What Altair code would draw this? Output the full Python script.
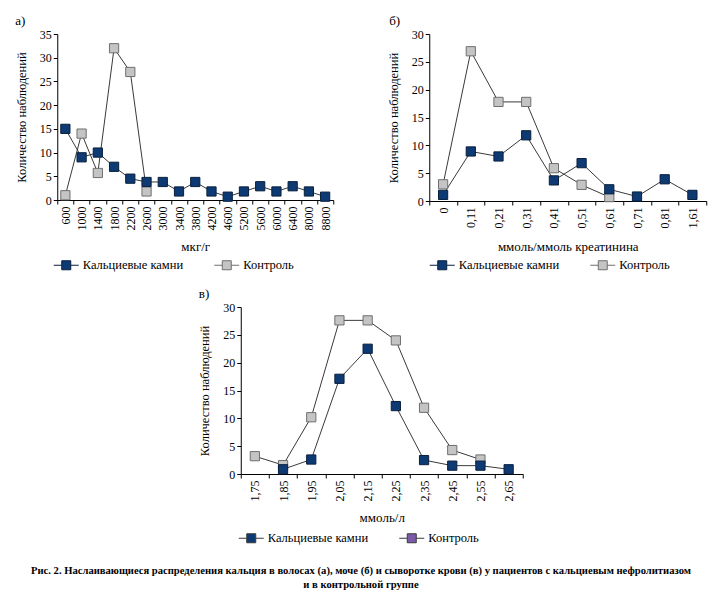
import altair as alt
import pandas as pd

# ---------------- data ----------------
SERIES = ["Кальциевые камни", "Контроль"]

# Panel а: hair, мкг/г
a_cats = ["600", "1000", "1400", "1800", "2200", "2600", "3000", "3400", "3800",
          "4200", "4600", "5200", "5600", "6000", "6400", "8000", "8800"]
a_stones = [15, 9, 10, 7, 4.5, 3.8, 3.8, 1.8, 3.8, 1.8, 0.7, 1.8, 2.9, 1.8, 2.9, 1.8, 0.7]
a_control = [1, 14, 5.7, 32, 27, 1.8]

# Panel б: urine, ммоль/ммоль креатинина
b_cats = ["0", "0,11", "0,21", "0,31", "0,41", "0,51", "0,61", "0,71", "0,81", "1,61"]
b_stones = [1.1, 8.9, 8.0, 11.8, 3.7, 6.8, 2.1, 0.8, 3.9, 1.1]
b_control = [3.0, 26.9, 17.8, 17.8, 5.9, 2.9, 0.7]

# Panel в: serum, ммоль/л
c_cats = ["1,75", "1,85", "1,95", "2,05", "2,15", "2,25", "2,35", "2,45", "2,55", "2,65"]
c_stones = [0.85, 2.6, 17.1, 22.5, 12.2, 2.5, 1.5, 1.5, 0.85]   # from 1,85
c_control = [3.2, 1.6, 10.2, 27.6, 27.6, 24.0, 11.9, 4.3, 2.6]  # from 1,75

CAPTION = [
    "Рис. 2. Наслаивающиеся распределения кальция в волосах (а), моче (б) и сыворотке крови (в) у пациентов с кальциевым нефролитиазом",
    "и в контрольной группе",
]

# ---------------- style ----------------
FONT = "Liberation Serif"
BLUE = "#0d3a73"
GRAY = "#c4c4c4"
PURPLE = "#7b5aa8"
LINE = "#3a3a3a"
# line + square symbol, fully inside its unit box (so legend layout has no overflow)
SYMBOL = "M-1,0H-0.36M0.36,0H1M-0.36,-0.36H0.36V0.36H-0.36Z"


def long_df(cats, stones, stones_start, control, control_start):
    rows = []
    for i, v in enumerate(control):
        k = control_start + i
        rows.append({"cat": cats[k], "idx": k, "val": v, "series": SERIES[1]})
    for i, v in enumerate(stones):
        k = stones_start + i
        rows.append({"cat": cats[k], "idx": k, "val": v, "series": SERIES[0]})
    return pd.DataFrame(rows)


def make_legend(lx, ly=218):
    return alt.Legend(
        title=None, orient="none", legendX=lx, legendY=ly, direction="horizontal",
        symbolType=SYMBOL, symbolSize=625, symbolStrokeColor=LINE, symbolStrokeWidth=1,
        symbolOpacity=1, labelFont=FONT, labelFontSize=12.5, labelColor="black",
        labelOffset=3.5, columnPadding=28.5, padding=0, labelLimit=400,
    )


def panel(df, cats, ymax, letter, letter_dx, xtitle, xtitle_pad, width, height,
          legend_x, purple_legend=False):
    x = alt.X(
        "cat:N", sort=cats,
        scale=alt.Scale(type="band", domain=cats, paddingInner=0, paddingOuter=0),
        axis=alt.Axis(
            title=xtitle, labelAngle=-90, tickBand="extent", tickSize=4, labelPadding=2,
            titlePadding=xtitle_pad, labelFont=FONT, labelFontSize=12, labelColor="black",
            titleFont=FONT, titleFontSize=13, titleFontWeight="normal", titleColor="black",
            domainColor="black", tickColor="black", grid=False,
        ),
    )
    y = alt.Y(
        "val:Q",
        scale=alt.Scale(domain=[0, ymax], nice=False, zero=True),
        axis=alt.Axis(
            title="Количество наблюдений", values=list(range(0, ymax + 1, 5)),
            tickSize=4, labelPadding=2, titlePadding=11, labelFont=FONT, labelFontSize=12,
            labelColor="black", titleFont=FONT, titleFontSize=12.5, titleFontWeight="normal",
            titleColor="black", domainColor="black", tickColor="black", grid=False,
        ),
    )
    base = alt.Chart(df)
    lines = base.mark_line(color=LINE, strokeWidth=1).encode(
        x=x, y=y, detail="series:N", order="idx:Q"
    )
    points = base.mark_square(size=85, strokeWidth=1, opacity=1).encode(
        x=x, y=y,
        fill=alt.Fill("series:N", scale=alt.Scale(domain=SERIES, range=[BLUE, GRAY]),
                      legend=None if purple_legend else make_legend(legend_x)),
        stroke=alt.Stroke("series:N", scale=alt.Scale(domain=SERIES, range=["#0a1f3d", "#6f6f6f"]),
                          legend=None),
    )
    label = alt.Chart(pd.DataFrame({"t": [letter]})).mark_text(
        font=FONT, fontSize=13, align="left", baseline="middle", color="black"
    ).encode(text="t:N", x=alt.value(letter_dx), y=alt.value(-13))
    layers = [lines, points]
    if purple_legend:
        ghost = base.mark_square(size=85, opacity=0).encode(
            x=x, y=y,
            fill=alt.Fill("series:N", scale=alt.Scale(domain=SERIES, range=[BLUE, PURPLE]),
                          legend=make_legend(legend_x)),
        )
        layers.append(ghost)
    layers.append(label)
    ch = alt.layer(*layers).properties(width=width, height=height)
    if purple_legend:
        ch = ch.resolve_scale(fill="independent")
    return ch


df_a = long_df(a_cats, a_stones, 0, a_control, 0)
df_b = long_df(b_cats, b_stones, 0, b_control, 0)
df_c = long_df(c_cats, c_stones, 1, c_control, 0)

pa = panel(df_a, a_cats, 35, "а)", -42, "мкг/г", 10, 276, 166, -4)
pb = panel(df_b, b_cats, 30, "б)", -40, "ммоль/ммоль креатинина", 12, 277, 167, 0)
pc = panel(df_c, c_cats, 30, "в)", -42, "ммоль/л", 10, 282, 167, -2.5, purple_legend=True)

top = alt.hconcat(pa, pb, spacing=53).resolve_scale(
    fill="independent", stroke="independent").resolve_legend(fill="independent")

chart = alt.vconcat(top, pc, spacing=16, center=True).resolve_scale(
    fill="independent", stroke="independent"
).resolve_legend(fill="independent").properties(
    title=alt.TitleParams(
        text=CAPTION, orient="bottom", anchor="middle", font=FONT, fontSize=10.6,
        fontWeight="bold", color="black", lineHeight=14.3, offset=21,
    ),
    padding={"left": 7, "top": 7, "right": 5, "bottom": 5},
).configure_view(stroke=None)

chart.save("out.html", embed_options={"renderer": "svg", "actions": False})
